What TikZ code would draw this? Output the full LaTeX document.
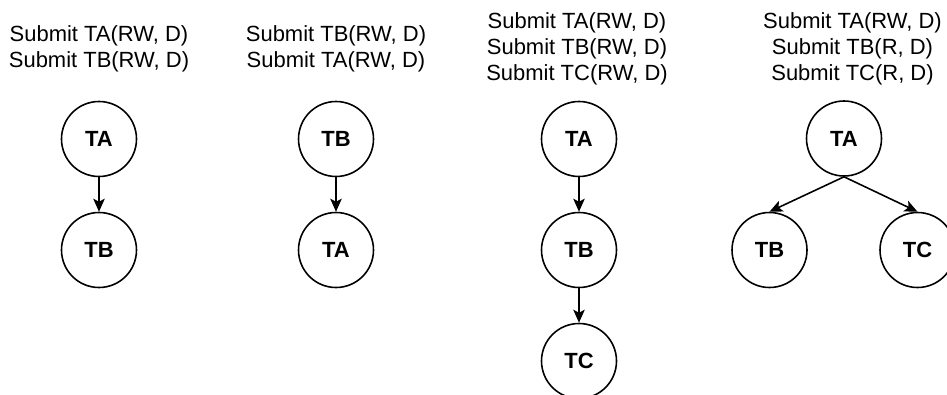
\documentclass[tikz,border=0pt]{standalone}
\usepackage{fontspec}
\setmainfont{Liberation Sans}
\usetikzlibrary{arrows.meta}

\begin{document}
\begin{tikzpicture}[-{Stealth[length=0.26cm,width=0.23cm,inset=0.06cm]}, line width=0.9pt,
  main node/.style={circle, draw, minimum size=1.5cm, inner sep=0pt, font=\fontsize{12.5}{15}\selectfont\bfseries},
  text node/.style={align=center, inner sep=0pt, font=\fontsize{12.5}{14.8}\selectfont}]
\useasboundingbox (0,0) rectangle (18.94,-7.88);
% first order
\node[text node] (t1) at (1.98,-0.97) {Submit TA(RW, D)\\Submit TB(RW, D)};
\node[main node] (a1) at (1.98,-2.78) {TA};
\node[main node] (b1) at (1.98,-5.0) {TB};
% second order
\node[text node] (t2) at (6.72,-0.97) {Submit TB(RW, D)\\Submit TA(RW, D)};
\node[main node] (b2) at (6.72,-2.78) {TB};
\node[main node] (a2) at (6.72,-5.0) {TA};
% chain of three
\node[text node] (t3) at (11.54,-0.97) {Submit TA(RW, D)\\Submit TB(RW, D)\\Submit TC(RW, D)};
\node[main node] (a3) at (11.58,-2.78) {TA};
\node[main node] (b3) at (11.58,-5.0) {TB};
\node[main node] (c3) at (11.58,-7.22) {TC};
% two readers
\node[text node] (t4) at (17.05,-0.97) {Submit TA(RW, D)\\Submit TB(R, D)\\Submit TC(R, D)};
\node[main node] (a4) at (16.88,-2.77) {TA};
\node[main node] (b4) at (15.39,-5.0) {TB};
\node[main node] (c4) at (18.35,-5.0) {TC};
\path
(a1) edge (b1)
(b2) edge (a2)
(a3) edge (b3)
(b3) edge (c3)
(a4.south) edge (b4.north)
(a4.south) edge (c4.north);
\end{tikzpicture}
\end{document}
